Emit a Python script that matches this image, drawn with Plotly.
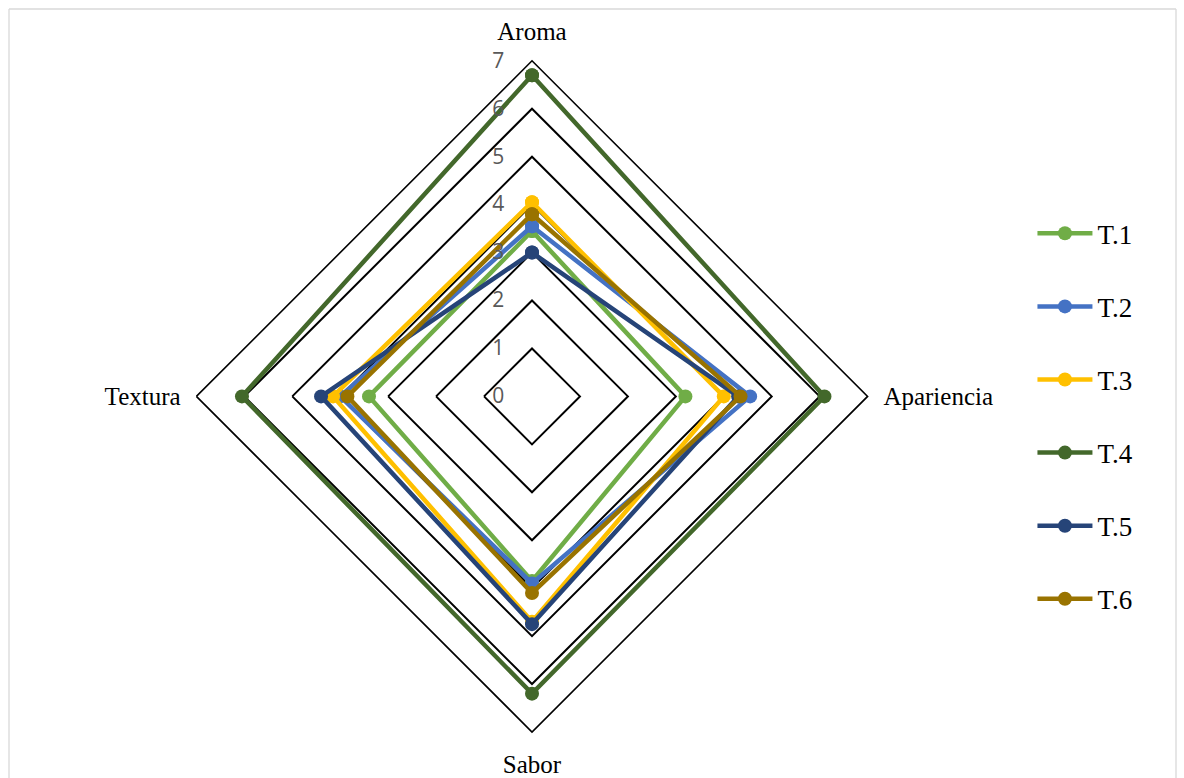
import plotly.graph_objects as go

# Sensory attributes (clockwise from the top) and treatment scores
attributes = ["Aroma", "Apariencia", "Sabor", "Textura"]
treatments = ["T.1", "T.2", "T.3", "T.4", "T.5", "T.6"]
t1 = [3.45, 3.2, 3.85, 3.4]
t2 = [3.55, 4.55, 3.9, 4.0]
t3 = [4.05, 4.0, 4.7, 4.15]
t4 = [6.7, 6.1, 6.2, 6.05]
t5 = [3.0, 4.3, 4.75, 4.4]
t6 = [3.8, 4.35, 4.1, 3.85]
scores = [t1, t2, t3, t4, t5, t6]
colors = ["#70AD47", "#4472C4", "#FFC000", "#43682B", "#264478", "#997300"]
radial_ticks = [0, 1, 2, 3, 4, 5, 6, 7]

W, H = 1184, 778
cx, cy, R = 532, 396.4, 335.6

fig = go.Figure()
for name, vals, col in zip(treatments, scores, colors):
    fig.add_trace(go.Scatterpolar(
        r=vals + vals[:1],
        theta=attributes + attributes[:1],
        mode="lines+markers",
        name=name,
        legendgroup=name,
        line=dict(color=col, width=4.5),
        marker=dict(color=col, size=14),
    ))

fig.update_layout(
    width=W, height=H,
    margin=dict(l=0, r=0, t=0, b=0),
    paper_bgcolor="white",
    plot_bgcolor="white",
    polar=dict(
        domain=dict(x=[(cx - R) / W, (cx + R) / W],
                    y=[1 - (cy + R) / H, 1 - (cy - R) / H]),
        gridshape="linear",
        bgcolor="white",
        radialaxis=dict(
            range=[0, 7],
            tickvals=radial_ticks,
            ticktext=[str(v) for v in radial_ticks],
            angle=90,
            tickangle=90,
            side="counterclockwise",
            showline=False,
            ticks="outside",
            ticklen=20,
            tickcolor="rgba(0,0,0,0)",
            gridcolor="black",
            gridwidth=1.6,
            tickfont=dict(family="Open Sans, Liberation Sans", size=21, color="#595959"),
        ),
        angularaxis=dict(
            rotation=90,
            direction="clockwise",
            showgrid=False,
            showline=True,
            linecolor="black",
            linewidth=1.6,
            ticks="outside",
            ticklen=10,
            tickcolor="rgba(0,0,0,0)",
            tickfont=dict(family="Liberation Serif", size=25, color="black"),
        ),
    ),
    legend=dict(
        x=0.872, y=0.465, xanchor="left", yanchor="middle",
        font=dict(family="Liberation Serif", size=27, color="black"),
        tracegroupgap=35,
        itemwidth=55,
        bgcolor="rgba(0,0,0,0)",
    ),
    shapes=[
        dict(type="line", xref="paper", yref="paper", x0=9 / W, x1=1176 / W,
             y0=1 - 9 / H, y1=1 - 9 / H, line=dict(color="#D9D9D9", width=1.3)),
        dict(type="line", xref="paper", yref="paper", x0=9 / W, x1=9 / W,
             y0=1 - 9 / H, y1=0, line=dict(color="#D9D9D9", width=1.3)),
        dict(type="line", xref="paper", yref="paper", x0=1176 / W, x1=1176 / W,
             y0=1 - 9 / H, y1=0, line=dict(color="#D9D9D9", width=1.3)),
    ],
)

fig.write_html("out.html")
